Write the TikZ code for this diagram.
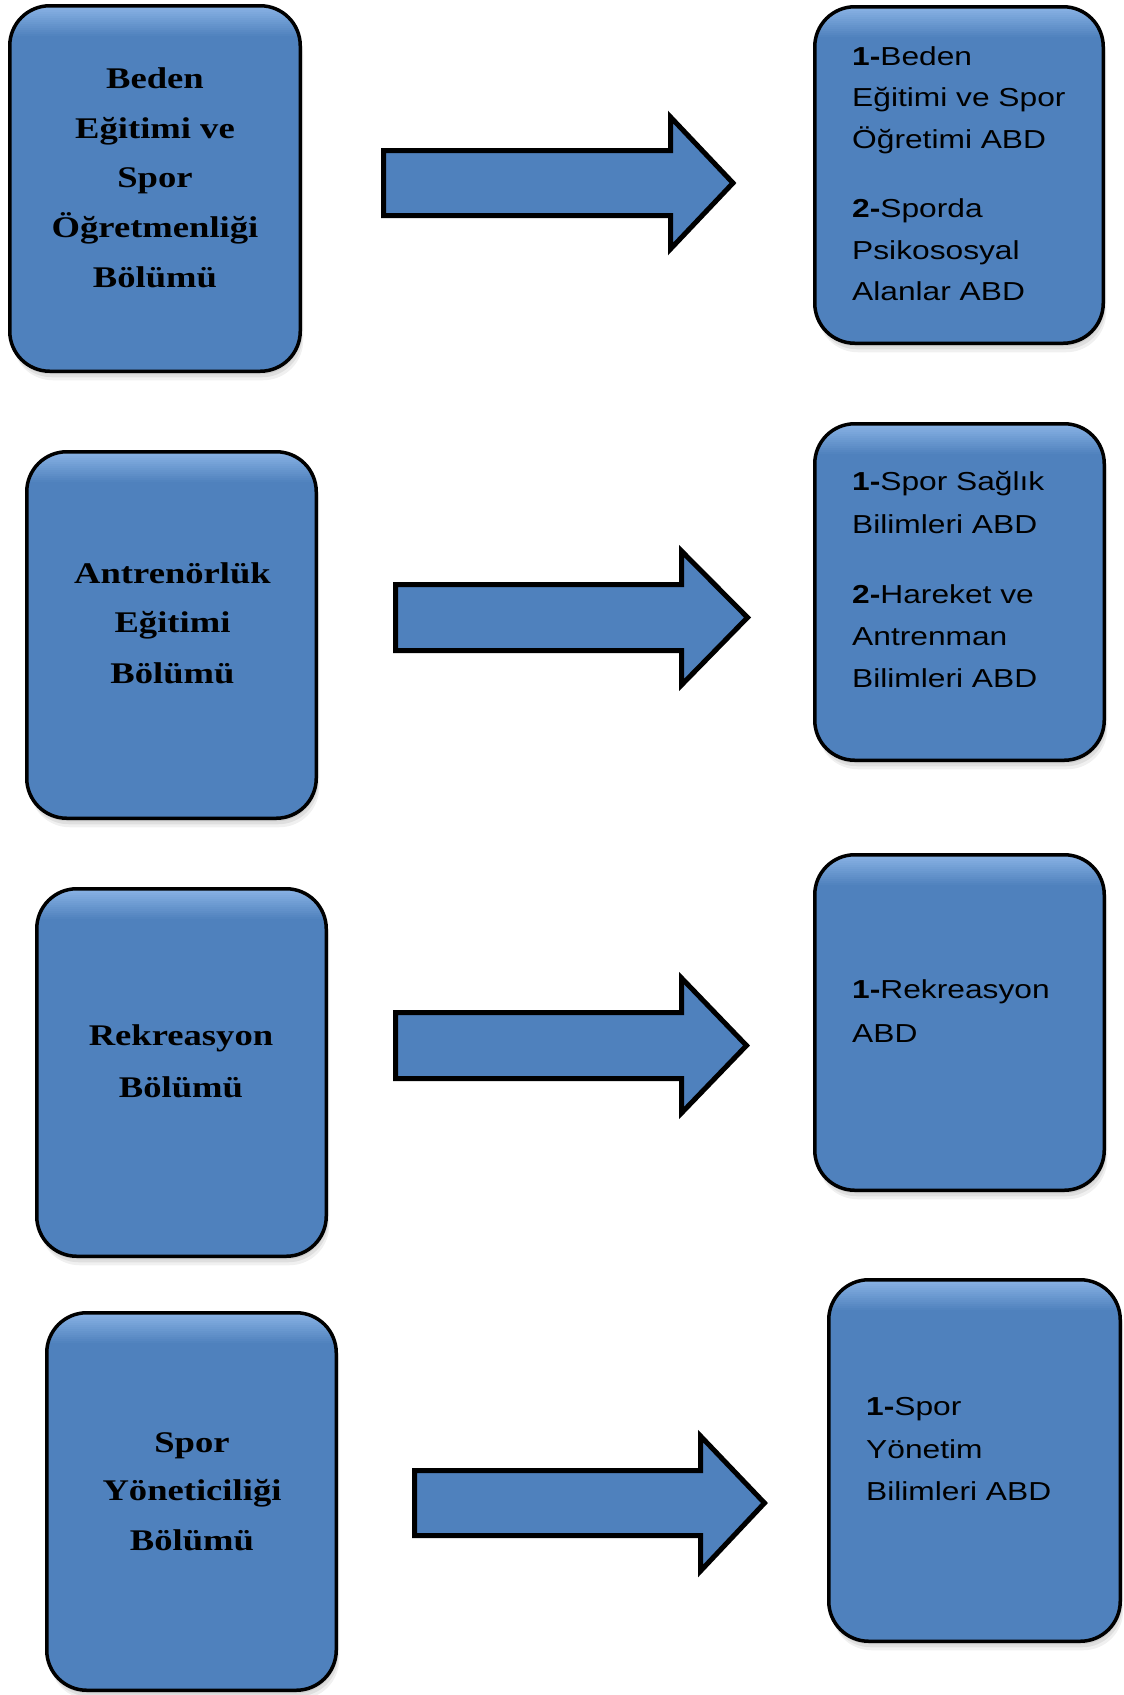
\documentclass[tikz,border=0pt]{standalone}
\usepackage{fontspec}
\usetikzlibrary{shadows}
\newfontfamily\lserif[FakeStretch=1.22]{Liberation Serif}
\newfontfamily\lsans[FakeStretch=1.22]{Liberation Sans}
\definecolor{boxblue}{HTML}{4F81BD}
\definecolor{toplight}{HTML}{9CC3F2}
\tikzset{
  box/.style={draw=black, line width=3.5pt, rounded corners=40pt, fill=boxblue,
    inner sep=0pt, shape=rectangle,
    general shadow={fill=black, opacity=0.07, shadow xshift=1pt, shadow yshift=-3pt},
    general shadow={fill=black, opacity=0.07, shadow xshift=2pt, shadow yshift=-6pt},
    general shadow={fill=black, opacity=0.06, shadow xshift=3pt, shadow yshift=-9pt},
    path picture={
      \foreach \k in {0,...,15}{
        \pgfmathsetmacro\boxop{0.8*(1-\k/16)}
        \fill[sharp corners, toplight, opacity=\boxop]
          ([yshift={2-2*\k}]path picture bounding box.north west) rectangle
          ([yshift={-2*\k}]path picture bounding box.north east);
      }}},
  bigarrow/.style={draw=black, line width=5pt, fill=boxblue, miter limit=10},
  ltext/.style={font=\lserif\bfseries\fontsize{30}{36}\selectfont, anchor=base, inner sep=0pt},
  rtext/.style={font=\lsans\fontsize{26}{31}\selectfont, anchor=base west, inner sep=0pt},
}
\begin{document}
\begin{tikzpicture}[x=1pt,y=-1pt]
\useasboundingbox (0,0) rectangle (1124,1695);

% left boxes
\node[box, minimum width=290.5pt, minimum height=365.5pt] (L1) at (155,188.5) {};
\node[box, minimum width=289.5pt, minimum height=366.5pt] (L2) at (171.5,635) {};
\node[box, minimum width=289.5pt, minimum height=367.5pt] (L3) at (181.5,1072.5) {};
\node[box, minimum width=289.5pt, minimum height=377.5pt] (L4) at (191.5,1501.5) {};
% right boxes
\node[box, minimum width=288.5pt, minimum height=336.5pt] (R1) at (959,175) {};
\node[box, minimum width=289.5pt, minimum height=336.5pt] (R2) at (959.5,592) {};
\node[box, minimum width=289.5pt, minimum height=335.5pt] (R3) at (959.5,1022.5) {};
\node[box, minimum width=291.5pt, minimum height=361.5pt] (R4) at (974.5,1460.5) {};

% arrows
\draw[bigarrow] (383.5,150.5) -- (670.5,150.5) -- (670.5,117) -- (733,183)
  -- (670.5,249) -- (670.5,215.5) -- (383.5,215.5) -- cycle;
\draw[bigarrow] (395.5,584.5) -- (681.5,584.5) -- (681.5,551) -- (747.5,617.5)
  -- (681.5,685) -- (681.5,650.5) -- (395.5,650.5) -- cycle;
\draw[bigarrow] (395.5,1012.5) -- (681.5,1012.5) -- (681.5,978) -- (746.5,1045.5)
  -- (681.5,1113) -- (681.5,1078.5) -- (395.5,1078.5) -- cycle;
\draw[bigarrow] (414.5,1470.5) -- (700.5,1470.5) -- (700.5,1436) -- (764.5,1503)
  -- (700.5,1571) -- (700.5,1535.5) -- (414.5,1535.5) -- cycle;

% left texts
\node[ltext] (l1a) at (155,88) {Beden};
\node[ltext] (l1b) at (155,138) {Eğitimi ve};
\node[ltext] (l1c) at (155,187) {Spor};
\node[ltext] (l1d) at (155,237) {Öğretmenliği};
\node[ltext] (l1e) at (155,287) {Bölümü};

\node[ltext] (l2a) at (172.5,583) {Antrenörlük};
\node[ltext] (l2b) at (172.5,632) {Eğitimi};
\node[ltext] (l2c) at (172.5,683) {Bölümü};

\node[ltext] (l3a) at (181,1045) {Rekreasyon};
\node[ltext] (l3b) at (181,1097) {Bölümü};

\node[ltext] (l4a) at (192,1452) {Spor};
\node[ltext] (l4b) at (192,1500) {Yöneticiliği};
\node[ltext] (l4c) at (192,1550) {Bölümü};

% right texts
\node[rtext] (r1a) at (852,65) {{\bfseries 1-}Beden};
\node[rtext] (r1b) at (852,106) {Eğitimi ve Spor};
\node[rtext] (r1c) at (852,148) {Öğretimi ABD};
\node[rtext] (r1d) at (852,217) {{\bfseries 2-}Sporda};
\node[rtext] (r1e) at (852,259) {Psikososyal};
\node[rtext] (r1f) at (852,300) {Alanlar ABD};

\node[rtext] (r2a) at (852,490) {{\bfseries 1-}Spor Sağlık};
\node[rtext] (r2b) at (852,533) {Bilimleri ABD};
\node[rtext] (r2c) at (852,603) {{\bfseries 2-}Hareket ve};
\node[rtext] (r2d) at (852,645) {Antrenman};
\node[rtext] (r2e) at (852,687) {Bilimleri ABD};

\node[rtext] (r3a) at (852,998) {{\bfseries 1-}Rekreasyon};
\node[rtext] (r3b) at (852,1042) {ABD};

\node[rtext] (r4a) at (866,1415) {{\bfseries 1-}Spor};
\node[rtext] (r4b) at (866,1458) {Yönetim};
\node[rtext] (r4c) at (866,1500) {Bilimleri ABD};
\end{tikzpicture}
\end{document}
